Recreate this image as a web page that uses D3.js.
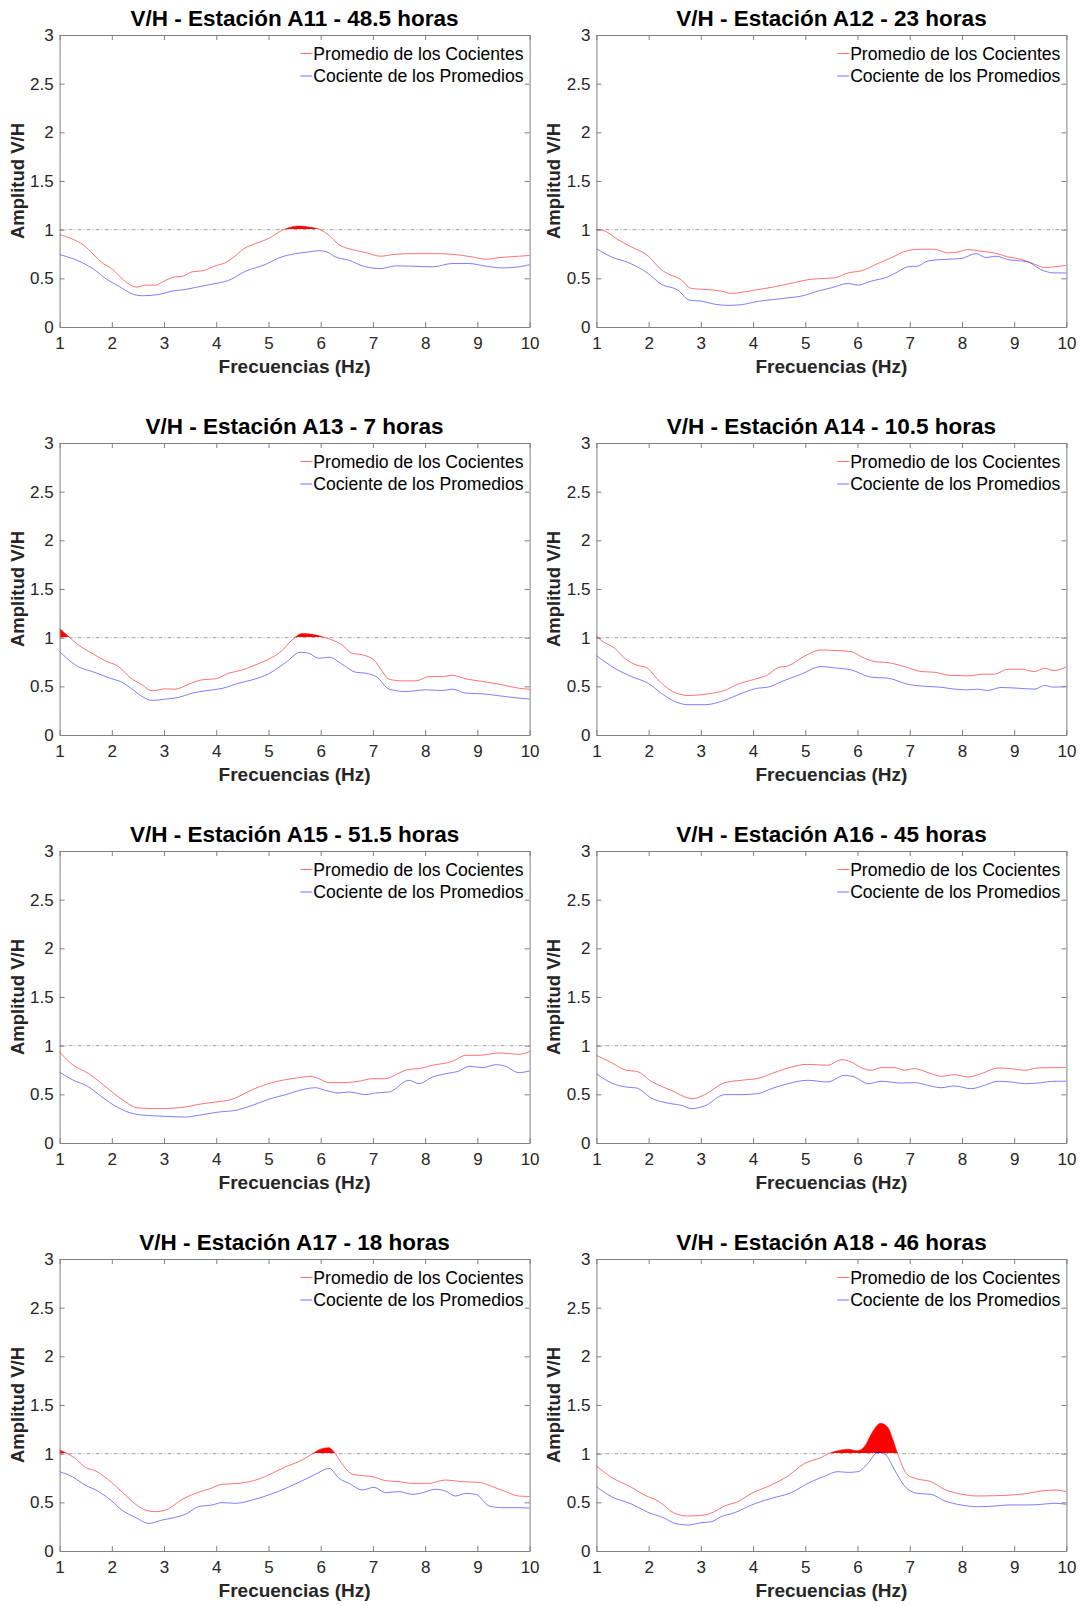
<!DOCTYPE html>
<html>
<head>
<meta charset="utf-8">
<script src="https://cdn.jsdelivr.net/npm/d3@7"></script>
<style>
  html, body { margin: 0; padding: 0; background: #fff; }
  svg { display: block; }
  text { font-family: "Liberation Sans", Arial, Helvetica, sans-serif; }
</style>
</head>
<body>
<svg id="chart" width="1081" height="1606"></svg>
<script>
// ---------- DATA ----------
const titles = [
  "V/H - Estación A11 - 48.5 horas",
  "V/H - Estación A12 - 23 horas",
  "V/H - Estación A13 - 7 horas",
  "V/H - Estación A14 - 10.5 horas",
  "V/H - Estación A15 - 51.5 horas",
  "V/H - Estación A16 - 45 horas",
  "V/H - Estación A17 - 18 horas",
  "V/H - Estación A18 - 46 horas"
];
const legendLabels = ["Promedio de los Cocientes", "Cociente de los Promedios"];
const xTicks = [1, 2, 3, 4, 5, 6, 7, 8, 9, 10];
const yTicks = [0, 0.5, 1, 1.5, 2, 2.5, 3];
const xLabel = "Frecuencias (Hz)";
const yLabel = "Amplitud V/H";
const threshold = 1;

// [frequency (Hz), amplitude]
const a11Prom = [[1,0.95],[1.46,0.84],[1.84,0.65],[2.0,0.60],[2.23,0.48],[2.48,0.41],[2.64,0.43],[2.83,0.43],[3.03,0.48],[3.22,0.515],[3.35,0.52],[3.54,0.567],[3.73,0.577],[3.98,0.628],[4.18,0.662],[4.34,0.72],[4.53,0.805],[4.75,0.857],[5.0,0.908],[5.26,0.993],[5.58,1.037],[5.77,1.027],[5.99,1.0],[6.16,0.94],[6.35,0.846],[6.6,0.795],[6.86,0.765],[7.15,0.727],[7.37,0.744],[7.75,0.754],[8.14,0.754],[8.52,0.747],[8.9,0.72],[9.16,0.696],[9.42,0.713],[9.79,0.727],[10,0.735]];
const a11Coc = [[1,0.744],[1.43,0.662],[1.68,0.584],[1.88,0.498],[2.13,0.42],[2.42,0.334],[2.58,0.321],[2.9,0.334],[3.15,0.369],[3.41,0.386],[3.66,0.413],[3.92,0.44],[4.24,0.48],[4.56,0.573],[4.94,0.642],[5.2,0.71],[5.52,0.754],[5.77,0.771],[5.96,0.785],[6.12,0.771],[6.28,0.72],[6.54,0.686],[6.8,0.628],[7.15,0.6],[7.43,0.628],[7.75,0.625],[8.14,0.618],[8.52,0.652],[8.84,0.652],[9.16,0.625],[9.48,0.607],[9.79,0.618],[10,0.64]];

const a12Prom = [[1,1.003],[1.13,0.993],[1.41,0.898],[1.67,0.823],[1.99,0.73],[2.24,0.59],[2.43,0.532],[2.59,0.498],[2.82,0.396],[3.07,0.386],[3.39,0.369],[3.58,0.345],[3.77,0.355],[4.03,0.379],[4.41,0.413],[4.79,0.457],[5.11,0.491],[5.56,0.505],[5.82,0.556],[6.07,0.577],[6.39,0.652],[6.64,0.71],[6.96,0.785],[7.22,0.799],[7.47,0.799],[7.73,0.761],[7.92,0.771],[8.11,0.795],[8.37,0.778],[8.62,0.761],[8.88,0.72],[9.13,0.696],[9.39,0.645],[9.58,0.611],[9.76,0.618],[10,0.633]];
const a12Coc = [[1,0.805],[1.29,0.72],[1.61,0.662],[1.99,0.55],[2.24,0.44],[2.56,0.379],[2.78,0.276],[3.01,0.266],[3.26,0.235],[3.52,0.222],[3.77,0.229],[4.09,0.263],[4.41,0.283],[4.67,0.3],[4.92,0.317],[5.24,0.369],[5.5,0.403],[5.82,0.447],[6.01,0.43],[6.26,0.471],[6.58,0.515],[6.77,0.567],[6.96,0.618],[7.15,0.625],[7.35,0.679],[7.6,0.693],[7.98,0.703],[8.27,0.754],[8.46,0.713],[8.65,0.727],[8.88,0.693],[9.26,0.669],[9.51,0.59],[9.76,0.556],[10,0.555]];

const a13Prom = [[1,1.096],[1.14,1.027],[1.36,0.925],[1.62,0.84],[1.88,0.761],[2.13,0.703],[2.35,0.59],[2.58,0.515],[2.77,0.454],[3.03,0.474],[3.22,0.471],[3.47,0.522],[3.73,0.567],[3.98,0.577],[4.24,0.635],[4.5,0.669],[4.75,0.72],[5.0,0.778],[5.26,0.867],[5.45,0.976],[5.65,1.044],[5.84,1.034],[6.03,1.01],[6.22,0.976],[6.41,0.925],[6.6,0.84],[6.8,0.823],[7.02,0.771],[7.18,0.652],[7.31,0.573],[7.56,0.556],[7.82,0.556],[8.07,0.6],[8.33,0.6],[8.52,0.614],[8.78,0.577],[9.1,0.55],[9.42,0.522],[9.79,0.481],[10,0.47]];
const a13Coc = [[1,0.857],[1.33,0.71],[1.68,0.642],[2.0,0.577],[2.16,0.55],[2.39,0.471],[2.58,0.396],[2.77,0.355],[3.03,0.369],[3.28,0.386],[3.54,0.43],[3.79,0.454],[4.11,0.478],[4.43,0.532],[4.69,0.567],[5.0,0.628],[5.33,0.744],[5.61,0.85],[5.77,0.84],[5.96,0.788],[6.16,0.799],[6.41,0.727],[6.67,0.645],[6.86,0.635],[7.08,0.594],[7.31,0.471],[7.63,0.447],[8.01,0.464],[8.33,0.457],[8.52,0.471],[8.78,0.43],[9.1,0.423],[9.42,0.403],[9.79,0.379],[10,0.37]];

const a14Prom = [[1,1.017],[1.1,0.969],[1.35,0.891],[1.54,0.788],[1.8,0.713],[1.96,0.693],[2.18,0.567],[2.43,0.457],[2.75,0.406],[3.14,0.423],[3.45,0.457],[3.71,0.522],[4.03,0.573],[4.28,0.618],[4.48,0.693],[4.67,0.71],[4.99,0.812],[5.3,0.874],[5.62,0.867],[5.88,0.857],[6.07,0.805],[6.33,0.754],[6.58,0.744],[6.96,0.693],[7.22,0.652],[7.47,0.645],[7.79,0.611],[8.11,0.608],[8.43,0.625],[8.62,0.625],[8.88,0.676],[9.13,0.676],[9.39,0.652],[9.58,0.686],[9.76,0.662],[10,0.70]];
const a14Coc = [[1,0.816],[1.35,0.686],[1.67,0.6],[1.99,0.532],[2.24,0.43],[2.5,0.345],[2.75,0.311],[3.07,0.311],[3.45,0.355],[3.71,0.413],[4.09,0.481],[4.28,0.491],[4.55,0.55],[4.92,0.625],[5.3,0.703],[5.62,0.686],[5.88,0.669],[6.26,0.594],[6.58,0.584],[6.96,0.522],[7.35,0.498],[7.6,0.491],[7.86,0.471],[8.11,0.464],[8.3,0.471],[8.49,0.457],[8.75,0.488],[9.07,0.481],[9.39,0.471],[9.58,0.509],[9.76,0.491],[10,0.50]];

const a15Prom = [[1,0.935],[1.24,0.808],[1.56,0.712],[1.81,0.61],[2.13,0.473],[2.51,0.36],[2.9,0.353],[3.41,0.37],[3.66,0.397],[3.98,0.421],[4.3,0.449],[4.69,0.548],[5.0,0.61],[5.26,0.644],[5.58,0.671],[5.81,0.685],[5.96,0.661],[6.16,0.62],[6.41,0.62],[6.73,0.634],[6.99,0.661],[7.24,0.661],[7.5,0.719],[7.69,0.757],[7.88,0.764],[8.14,0.798],[8.52,0.839],[8.78,0.901],[9.03,0.901],[9.42,0.925],[9.61,0.918],[9.79,0.911],[10,0.94]];
const a15Coc = [[1,0.729],[1.24,0.651],[1.56,0.575],[1.81,0.473],[2.13,0.36],[2.51,0.291],[2.9,0.277],[3.41,0.267],[3.73,0.291],[4.05,0.318],[4.37,0.336],[4.69,0.387],[5.0,0.449],[5.33,0.497],[5.65,0.548],[5.9,0.568],[6.09,0.541],[6.35,0.514],[6.54,0.524],[6.86,0.497],[7.05,0.514],[7.31,0.524],[7.69,0.644],[7.88,0.61],[8.14,0.678],[8.4,0.712],[8.65,0.74],[8.84,0.788],[9.1,0.774],[9.36,0.805],[9.54,0.788],[9.79,0.723],[10,0.74]];

const a16Prom = [[1,0.9],[1.29,0.825],[1.57,0.747],[1.77,0.736],[2.05,0.634],[2.43,0.541],[2.85,0.455],[3.07,0.497],[3.46,0.62],[3.77,0.644],[4.13,0.668],[4.35,0.712],[4.67,0.771],[5.05,0.808],[5.43,0.798],[5.69,0.856],[5.88,0.832],[6.07,0.774],[6.26,0.747],[6.45,0.774],[6.71,0.774],[6.9,0.747],[7.09,0.764],[7.35,0.723],[7.6,0.685],[7.86,0.702],[8.11,0.678],[8.37,0.712],[8.69,0.771],[8.94,0.764],[9.2,0.747],[9.45,0.771],[9.76,0.774],[10,0.775]];
const a16Coc = [[1,0.712],[1.29,0.616],[1.57,0.575],[1.77,0.565],[2.05,0.462],[2.43,0.404],[2.63,0.387],[2.82,0.353],[3.07,0.38],[3.46,0.497],[3.77,0.497],[4.09,0.507],[4.35,0.558],[4.67,0.61],[5.05,0.644],[5.43,0.627],[5.75,0.695],[5.94,0.678],[6.2,0.61],[6.45,0.634],[6.84,0.616],[7.09,0.62],[7.35,0.592],[7.6,0.568],[7.86,0.586],[8.17,0.558],[8.43,0.592],[8.69,0.634],[8.94,0.627],[9.2,0.61],[9.45,0.616],[9.76,0.634],[10,0.635]];

const a17Prom = [[1,1.038],[1.14,1.003],[1.3,0.952],[1.49,0.86],[1.68,0.825],[2.0,0.702],[2.19,0.61],[2.45,0.483],[2.64,0.421],[2.83,0.404],[3.03,0.421],[3.15,0.455],[3.28,0.507],[3.6,0.592],[3.86,0.637],[4.11,0.685],[4.43,0.695],[4.69,0.719],[4.88,0.753],[5.07,0.798],[5.33,0.866],[5.58,0.918],[5.84,0.997],[5.96,1.038],[6.16,1.062],[6.25,1.021],[6.38,0.918],[6.6,0.791],[6.86,0.771],[6.99,0.764],[7.24,0.723],[7.5,0.712],[7.75,0.695],[8.07,0.695],[8.39,0.729],[8.71,0.712],[9.03,0.705],[9.29,0.661],[9.54,0.61],[9.79,0.565],[10,0.56]];
const a17Coc = [[1,0.815],[1.24,0.764],[1.49,0.678],[1.75,0.61],[2.0,0.514],[2.19,0.421],[2.45,0.346],[2.71,0.284],[2.96,0.318],[3.22,0.346],[3.41,0.377],[3.66,0.455],[3.92,0.473],[4.11,0.497],[4.37,0.49],[4.69,0.524],[5.0,0.575],[5.33,0.644],[5.65,0.723],[5.9,0.788],[6.16,0.849],[6.35,0.747],[6.54,0.695],[6.8,0.627],[7.02,0.654],[7.24,0.599],[7.5,0.61],[7.75,0.582],[7.95,0.599],[8.2,0.634],[8.39,0.616],[8.58,0.565],[8.78,0.592],[8.97,0.582],[9.23,0.462],[9.48,0.445],[9.79,0.445],[10,0.44]];

const a18Prom = [[1,0.873],[1.29,0.757],[1.67,0.654],[1.92,0.575],[2.18,0.514],[2.5,0.387],[2.75,0.36],[3.07,0.37],[3.26,0.404],[3.45,0.462],[3.71,0.507],[3.97,0.592],[4.35,0.678],[4.67,0.771],[4.99,0.901],[5.31,0.962],[5.43,0.997],[5.62,1.031],[5.82,1.045],[6.0,1.031],[6.13,1.072],[6.29,1.226],[6.44,1.312],[6.58,1.271],[6.68,1.14],[6.77,0.997],[6.96,0.781],[7.15,0.74],[7.41,0.712],[7.66,0.634],[7.98,0.586],[8.3,0.565],[8.62,0.568],[8.94,0.575],[9.26,0.592],[9.51,0.616],[9.76,0.627],[10,0.61]];
const a18Coc = [[1,0.661],[1.29,0.558],[1.67,0.483],[1.99,0.397],[2.31,0.336],[2.5,0.284],[2.75,0.267],[3.01,0.291],[3.2,0.301],[3.39,0.353],[3.65,0.394],[3.97,0.473],[4.35,0.541],[4.73,0.599],[5.05,0.695],[5.38,0.771],[5.62,0.815],[5.82,0.808],[6.01,0.815],[6.2,0.901],[6.39,1.014],[6.52,0.997],[6.71,0.832],[6.9,0.668],[7.15,0.592],[7.41,0.582],[7.66,0.517],[7.98,0.473],[8.3,0.455],[8.62,0.462],[8.88,0.473],[9.26,0.473],[9.51,0.479],[9.76,0.49],[10,0.48]];

const promSeries = [a11Prom, a12Prom, a13Prom, a14Prom, a15Prom, a16Prom, a17Prom, a18Prom];
const cocSeries  = [a11Coc,  a12Coc,  a13Coc,  a14Coc,  a15Coc,  a16Coc,  a17Coc,  a18Coc];

// ---------- LAYOUT ----------
const colLeft = [59.6, 596.4];
const plotW = 470, plotH = 292;
const firstBottom = 327, rowStep = 408;
const axisColor = "#808080", tickTextColor = "#262626";
const seriesColors = ["#ff0000", "#0000ff"];

const svg = d3.select("#chart");
const defs = svg.append("defs");

titles.forEach((title, i) => {
  const col = i % 2, row = Math.floor(i / 2);
  const x0 = colLeft[col];
  const yb = firstBottom + rowStep * row;
  const yt = yb - plotH;

  const x = d3.scaleLinear().domain([1, 10]).range([x0, x0 + plotW]);
  const y = d3.scaleLinear().domain([0, 3]).range([yb, yt]);

  const g = svg.append("g");

  // clip: keep only the part above the threshold line
  const clipId = "clipAbove" + i;
  defs.append("clipPath").attr("id", clipId)
    .append("rect")
    .attr("x", x0).attr("y", yt)
    .attr("width", plotW).attr("height", y(threshold) - yt - 0.6);

  const line = d3.line().x(d => x(d[0])).y(d => y(d[1])).curve(d3.curveMonotoneX);
  const area = d3.area().x(d => x(d[0])).y0(y(threshold) + 2).y1(d => y(d[1])).curve(d3.curveMonotoneX);

  const series = [promSeries[i], cocSeries[i]];

  // threshold dash-dot line
  g.append("line")
    .attr("x1", x(1)).attr("x2", x(10))
    .attr("y1", y(threshold)).attr("y2", y(threshold))
    .attr("stroke", "#a0a0a0").attr("stroke-width", 1)
    .attr("stroke-dasharray", "4,2,1,2");

  // filled regions above threshold (only where a curve exceeds 1)
  series.forEach((s, k) => {
    if (!s.some(d => d[1] > threshold)) return;
    g.append("path").datum(s)
      .attr("d", area)
      .attr("fill", seriesColors[k])
      .attr("clip-path", `url(#${clipId})`);
  });

  // lines
  series.forEach((s, k) => {
    g.append("path").datum(s)
      .attr("d", line)
      .attr("fill", "none")
      .attr("stroke", seriesColors[k])
      .attr("stroke-opacity", k === 0 ? 0.55 : 0.5)
      .attr("stroke-width", 1);
  });

  // axes (MATLAB style: inward ticks, box)
  const fontSize = 17;
  const xAxis = g.append("g").attr("transform", `translate(0,${yb})`)
    .call(d3.axisBottom(x).tickValues(xTicks).tickFormat(d3.format("d"))
      .tickSizeInner(-5).tickSizeOuter(0).tickPadding(10));
  const yAxis = g.append("g").attr("transform", `translate(${x0},0)`)
    .call(d3.axisLeft(y).tickValues(yTicks).tickFormat(d => String(d))
      .tickSizeInner(-5).tickSizeOuter(0).tickPadding(6));
  const topAxis = g.append("g").attr("transform", `translate(0,${yt})`)
    .call(d3.axisTop(x).tickValues(xTicks).tickFormat("")
      .tickSizeInner(-5).tickSizeOuter(0));
  const rightAxis = g.append("g").attr("transform", `translate(${x0 + plotW},0)`)
    .call(d3.axisRight(y).tickValues(yTicks).tickFormat("")
      .tickSizeInner(-5).tickSizeOuter(0));

  [xAxis, yAxis, topAxis, rightAxis].forEach(a => {
    a.select(".domain").attr("stroke", axisColor);
    a.selectAll(".tick line").attr("stroke", axisColor);
    a.selectAll(".tick text")
      .attr("fill", tickTextColor)
      .style("font-size", fontSize + "px")
      .style("font-family", '"Liberation Sans", Arial, sans-serif');
  });

  // title
  g.append("text")
    .attr("x", x0 + plotW / 2).attr("y", yt - 9)
    .attr("text-anchor", "middle")
    .style("font-size", "22.5px").style("font-weight", "bold")
    .attr("fill", "#000")
    .text(title);

  // x label
  g.append("text")
    .attr("x", x0 + plotW / 2).attr("y", yb + 46)
    .attr("text-anchor", "middle")
    .style("font-size", "19px").style("font-weight", "bold")
    .attr("fill", tickTextColor)
    .text(xLabel);

  // y label
  g.append("text")
    .attr("transform", `translate(${x0 - 36},${(yt + yb) / 2}) rotate(-90)`)
    .attr("text-anchor", "middle")
    .style("font-size", "18.5px").style("font-weight", "bold")
    .attr("fill", tickTextColor)
    .text(yLabel);

  // legend
  legendLabels.forEach((lab, k) => {
    const by = yt + 24.5 + k * 22.5;
    const rx = x0 + plotW - 6;
    const t = g.append("text")
      .attr("x", rx).attr("y", by)
      .attr("text-anchor", "end")
      .style("font-size", "17.6px")
      .attr("fill", "#000")
      .text(lab);
    const w = t.node().getComputedTextLength();
    const sx = rx - w;
    g.append("line")
      .attr("x1", sx - 13).attr("x2", sx - 1)
      .attr("y1", by - 6).attr("y2", by - 6)
      .attr("stroke", seriesColors[k])
      .attr("stroke-opacity", 0.55)
      .attr("stroke-width", 1);
  });
});
</script>
</body>
</html>
